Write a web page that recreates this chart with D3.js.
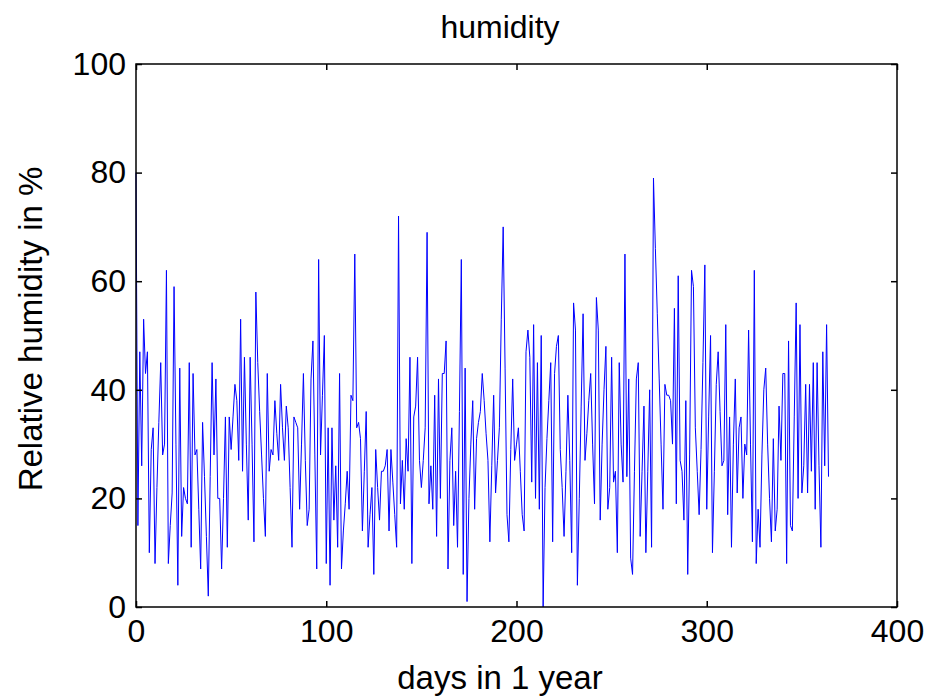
<!DOCTYPE html>
<html>
<head>
<meta charset="utf-8">
<script src="https://cdn.jsdelivr.net/npm/d3@7"></script>
<style>
  body { margin: 0; background: #fff; }
  text { font-family: "Liberation Sans", Arial, sans-serif; fill: #000; }
</style>
</head>
<body>
<script>
'use strict';

const title = 'humidity';
const xLabel = 'days in 1 year';
const yLabel = 'Relative humidity in %';
const xTicks = [0, 100, 200, 300, 400];
const yTicks = [0, 20, 40, 60, 80, 100];

// one reading per day, day 0 .. 364
const humidity = [
  80, 15, 47, 26, 53, 43, 47, 10, 29, 33,
  8, 22, 34, 45, 28, 30, 62, 8, 15, 21,
  59, 30, 4, 44, 13, 22, 20, 19, 45, 11,
  43, 28, 29, 18, 7, 34, 24, 13, 2, 24,
  45, 28, 42, 20, 20, 7, 20, 35, 11, 35,
  29, 35, 41, 38, 27, 53, 25, 46, 30, 16,
  46, 30, 12, 58, 45, 36, 28, 20, 13, 43,
  25, 29, 28, 38, 32, 27, 41, 33, 27, 37,
  33, 22, 11, 35, 34, 33, 18, 30, 43, 27,
  15, 18, 42, 49, 28, 7, 64, 28, 39, 50,
  8, 33, 4, 33, 16, 26, 11, 43, 7, 14,
  19, 25, 18, 39, 38, 65, 33, 34, 31, 14,
  25, 36, 11, 17, 22, 6, 29, 22, 16, 25,
  25, 26, 29, 14, 29, 23, 17, 11, 72, 19,
  27, 18, 31, 25, 46, 8, 35, 37, 46, 27,
  22, 27, 33, 69, 19, 26, 18, 39, 13, 42,
  20, 43, 43, 49, 7, 27, 33, 15, 25, 11,
  36, 64, 6, 44, 1, 20, 30, 38, 18, 31,
  34, 36, 43, 38, 32, 27, 12, 26, 39, 21,
  27, 33, 53, 70, 44, 17, 12, 29, 42, 27,
  30, 33, 25, 17, 14, 47, 51, 46, 23, 52,
  20, 45, 18, 50, 0, 22, 31, 38, 45, 12,
  43, 48, 50, 29, 22, 13, 25, 39, 27, 10,
  56, 51, 4, 20, 37, 54, 27, 32, 38, 43,
  30, 19, 57, 51, 16, 30, 40, 48, 18, 22,
  46, 23, 25, 10, 45, 30, 23, 65, 24, 42,
  9, 6, 25, 42, 45, 13, 25, 37, 10, 25,
  40, 11, 79, 66, 54, 42, 30, 18, 41, 39,
  39, 38, 30, 55, 19, 61, 27, 25, 16, 38,
  6, 28, 62, 59, 33, 25, 17, 29, 45, 63,
  18, 35, 50, 10, 25, 41, 47, 36, 26, 27,
  52, 17, 35, 11, 30, 42, 21, 33, 35, 20,
  30, 28, 51, 30, 12, 62, 8, 18, 11, 28,
  40, 44, 30, 20, 12, 31, 14, 18, 37, 27,
  43, 43, 8, 49, 15, 14, 35, 56, 20, 52,
  21, 26, 41, 21, 41, 25, 45, 18, 45, 26,
  11, 47, 26, 52, 24
];

const margin = {top: 64, right: 36, bottom: 93, left: 136};
const width = 933 - margin.left - margin.right;
const height = 700 - margin.top - margin.bottom;
const tick = 6;
const tickFont = 32;
const labelFont = 33;

const xScale = d3.scaleLinear().domain([0, 400]).range([0, width]);
const yScale = d3.scaleLinear().domain([0, 100]).range([height, 0]);

const svg = d3.select('body').append('svg')
    .attr('width', 933)
    .attr('height', 700);

const g = svg.append('g')
    .attr('transform', 'translate(' + margin.left + ',' + margin.top + ')');

// data line
const line = d3.line()
    .x((d, i) => xScale(i))
    .y(d => yScale(d));

g.append('path')
    .datum(humidity)
    .attr('fill', 'none')
    .attr('stroke', '#0000ff')
    .attr('stroke-width', 1)
    .attr('d', line);

// axes, MATLAB style: ticks pointing inwards on all four sides
function styleAxis(sel) {
  sel.select('.domain').remove();
  sel.selectAll('.tick line').attr('stroke', '#000').attr('stroke-width', 1.5);
  sel.selectAll('.tick text')
      .style('font-size', tickFont + 'px')
      .style('font-family', '"Liberation Sans", Arial, sans-serif')
      .attr('fill', '#000');
}

g.append('g')
    .attr('transform', 'translate(0,' + height + ')')
    .call(d3.axisBottom(xScale).tickValues(xTicks).tickSizeInner(-tick).tickSizeOuter(0).tickPadding(12))
    .call(styleAxis);

g.append('g')
    .call(d3.axisLeft(yScale).tickValues(yTicks).tickSizeInner(-tick).tickSizeOuter(0).tickPadding(10))
    .call(styleAxis);

g.append('g')
    .call(d3.axisTop(xScale).tickValues(xTicks).tickSizeInner(-tick).tickSizeOuter(0).tickFormat(''))
    .call(styleAxis);

g.append('g')
    .attr('transform', 'translate(' + width + ',0)')
    .call(d3.axisRight(yScale).tickValues(yTicks).tickSizeInner(-tick).tickSizeOuter(0).tickFormat(''))
    .call(styleAxis);

// frame
g.append('rect')
    .attr('width', width)
    .attr('height', height)
    .attr('fill', 'none')
    .attr('stroke', '#000')
    .attr('stroke-width', 1.5);

// labels
svg.append('text')
    .attr('x', 500)
    .attr('y', 38)
    .attr('text-anchor', 'middle')
    .style('font-size', '32px')
    .text(title);

svg.append('text')
    .attr('x', 500)
    .attr('y', 689)
    .attr('text-anchor', 'middle')
    .style('font-size', labelFont + 'px')
    .text(xLabel);

svg.append('text')
    .attr('transform', 'translate(42,329) rotate(-90)')
    .attr('text-anchor', 'middle')
    .style('font-size', labelFont + 'px')
    .text(yLabel);
</script>
</body>
</html>
